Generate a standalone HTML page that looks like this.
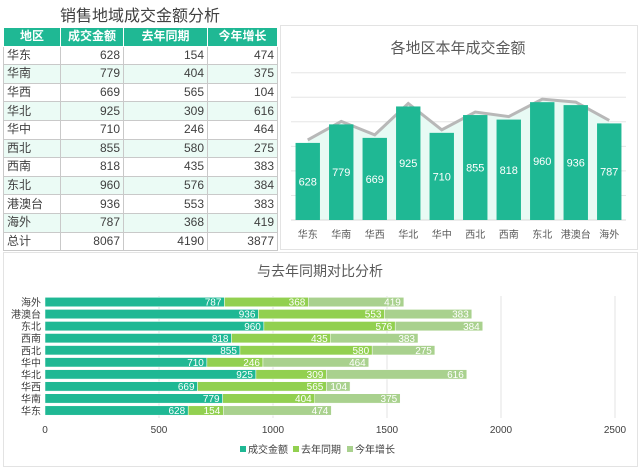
<!DOCTYPE html>
<html><head><meta charset="utf-8"><style>
body{margin:0;width:640px;height:468px;background:#fff;font-family:"Liberation Sans","Noto Sans CJK SC",sans-serif;position:relative;overflow:hidden}
#title{position:absolute;left:3px;width:274px;top:2px;text-align:center;font-size:16px;color:#404040}
table{position:absolute;left:3px;top:27px;border-collapse:collapse;font-size:12px;color:#404040}
td,th{border:1px solid #c9c9c9;height:17.6px;padding:0 3px;line-height:17px}
th{background:#1fb894;color:#fff;font-weight:bold;border-color:#fff}
td.n{text-align:right}
tr.alt td{background:#ebfbf5}
.panel{position:absolute;border:1px solid #e3e3e3;background:#fff}
svg text{font-family:"Liberation Sans","Noto Sans CJK SC",sans-serif}
</style></head><body>
<div id="title">销售地域成交金额分析</div>
<table>
<colgroup><col style="width:57px"><col style="width:63px"><col style="width:84px"><col style="width:70px"></colgroup>
<thead><tr><th>地区</th><th>成交金额</th><th>去年同期</th><th>今年增长</th></tr></thead>
<tbody id="tb"></tbody></table>
<div class="panel" style="left:280px;top:25px;width:356px;height:223px"></div>
<div class="panel" style="left:3px;top:252px;width:633px;height:213px"></div>
<svg id="s" width="640" height="468" style="position:absolute;left:0;top:0"></svg>
<script>
const cats=["华东","华南","华西","华北","华中","西北","西南","东北","港澳台","海外"];
const amount=[628,779,669,925,710,855,818,960,936,787];
const lastYear=[154,404,565,309,246,580,435,576,553,368];
const growth=[474,375,104,616,464,275,383,384,383,419];
const xTicks=[0,500,1000,1500,2000,2500];
const tb=document.getElementById('tb');
cats.forEach((c,i)=>{const tr=document.createElement('tr');if(i%2)tr.className='alt';


tr.innerHTML=`<td>${c}</td><td class="n">${amount[i]}</td><td class="n">${lastYear[i]}</td><td class="n">${growth[i]}</td>`;tb.appendChild(tr);});
const sum=a=>a.reduce((x,y)=>x+y,0);
const tr=document.createElement('tr');tr.innerHTML=`<td>总计</td><td class="n">${sum(amount)}</td><td class="n">${sum(lastYear)}</td><td class="n">${sum(growth)}</td>`;


tb.appendChild(tr);
const s=document.getElementById('s');const NS='http://www.w3.org/2000/svg';
function el(t,a,txt){const e=document.createElementNS(NS,t);for(const k in a)e.setAttribute(k,a[k]);if(txt!=null)e.textContent=txt;s.appendChild(e);return e;}
// chart 1
const x0=291,x1=626,yb=220,sc=147.3/1200,cw=(x1-x0)/10;
const Y=v=>yb-v*sc,X=i=>x0+cw*(i+0.5);
let t=el('text',{x:458,y:53,'text-anchor':'middle','font-size':15,fill:'#595959'},'各地区本年成交金额');


for(let v=200;v<=1200;v+=200){const g=el('line',{x1:x0,x2:x1,y1:Y(v),y2:Y(v),stroke:'#e6e6e6'});

}
let pts=amount.map((v,i)=>`${X(i)},${Y(v)-3}`).join(' ');
let area=el('polygon',{points:`${X(0)},${yb} ${pts} ${X(9)},${yb}`,fill:'#e8faf4'});


let ln=el('polyline',{points:pts,fill:'none',stroke:'#b8b8b8','stroke-width':3});


el('line',{x1:x0,x2:x1,y1:yb,y2:yb,stroke:'#d9d9d9'});
amount.forEach((v,i)=>{const b=el('rect',{x:X(i)-12.2,y:Y(v),width:24.4,height:v*sc,fill:'#1fb894'});


el('text',{x:X(i),y:Y(v/2)+4,'text-anchor':'middle','font-size':11,fill:'#fff'},v);
const l=el('text',{x:X(i),y:238,'text-anchor':'middle','font-size':10,fill:'#595959'},cats[i]);

});
// chart 2
const bx0=45,bsc=(615-45)/2500,BX=v=>bx0+v*bsc,rowY=i=>410.5-i*12.05;
t=el('text',{x:320,y:276,'text-anchor':'middle','font-size':14,fill:'#595959'},'与去年同期对比分析');


xTicks.forEach(v=>{if(v>0)el('line',{x1:BX(v),x2:BX(v),y1:296,y2:418,stroke:'#e3e3e3'});
const l=el('text',{x:BX(v),y:433,'text-anchor':'middle','font-size':10,fill:'#404040'},v);

});
const series=[[amount,'#1fb894'],[lastYear,'#92d050'],[growth,'#a9d18e']];
cats.forEach((c,i)=>{let acc=0;const y=rowY(i);
const l=el('text',{x:41,y:y+4,'text-anchor':'end','font-size':10,fill:'#404040'},c);


series.forEach(([d,col],k)=>{const r=el('rect',{x:BX(acc),y:y-4.7,width:d[i]*bsc,height:9.4,fill:col,stroke:'#fff','stroke-width':0.5});


acc+=d[i];el('text',{x:BX(acc)-3,y:y+3.6,'text-anchor':'end','font-size':10,fill:'#fff'},d[i]);});});
[['成交金额','#1fb894',240],['去年同期','#92d050',293],['今年增长','#a9d18e',347]].forEach(([n,c,x])=>{
const r=el('rect',{x:x,y:446,width:6,height:6,fill:c});


const l=el('text',{x:x+8,y:453,'font-size':10,fill:'#404040'},n);

});
</script>
</body></html>
